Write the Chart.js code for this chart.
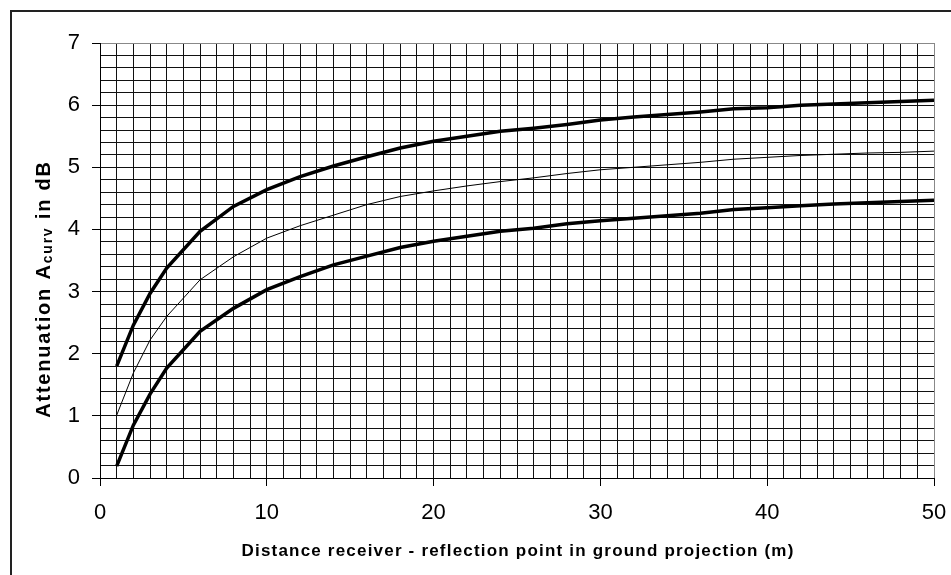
<!DOCTYPE html>
<html>
<head>
<meta charset="utf-8">
<script src="https://cdn.jsdelivr.net/npm/chart.js@4/dist/chart.umd.min.js"></script>
<style>
    body { margin: 0; background: #fff; }
    #wrap { position: relative; width: 951px; height: 575px; }
</style>
</head>
<body>
<div id="wrap"><canvas id="curvChart"></canvas></div>
<script>
// Chart data
const distances = [1, 2, 3, 4, 6, 8, 10, 12, 14, 16, 18, 20, 22, 24, 26, 28, 30, 32, 34, 36, 38, 40, 42, 44, 46, 48, 50];
const upperCurve = [1.80, 2.46, 2.97, 3.38, 3.97, 4.37, 4.64, 4.85, 5.02, 5.17, 5.31, 5.42, 5.50, 5.58, 5.63, 5.69, 5.76, 5.81, 5.85, 5.89, 5.94, 5.96, 6.00, 6.02, 6.04, 6.06, 6.08];
const middleCurve = [1.01, 1.69, 2.22, 2.60, 3.19, 3.56, 3.86, 4.06, 4.23, 4.40, 4.53, 4.62, 4.70, 4.77, 4.83, 4.90, 4.96, 5.00, 5.04, 5.08, 5.13, 5.16, 5.19, 5.21, 5.23, 5.24, 5.26];
const lowerCurve = [0.19, 0.85, 1.35, 1.77, 2.36, 2.73, 3.03, 3.24, 3.43, 3.57, 3.71, 3.81, 3.89, 3.97, 4.02, 4.09, 4.14, 4.18, 4.22, 4.26, 4.32, 4.35, 4.38, 4.41, 4.43, 4.45, 4.47];
const xTickLabels = [0, 10, 20, 30, 40, 50];
const yTickLabels = [0, 1, 2, 3, 4, 5, 6, 7];
const xTitle = 'Distance receiver - reflection point in ground projection (m)';
const yTitleParts = ['Attenuation A', 'curv', ' in dB'];

const FONT = "'Liberation Sans', Arial, sans-serif";

function toPoints(values) {
    return distances.map((d, i) => ({ x: d, y: values[i] }));
}

// draws text pieces one after another, with optional letter spacing
function drawPieces(ctx, pieces, spacing) {
    const hasLS = 'letterSpacing' in ctx;
    if (hasLS) ctx.letterSpacing = spacing + 'px';
    let total = 0;
    pieces.forEach(p => { ctx.font = p.font; total += ctx.measureText(p.text).width; });
    let x = -total / 2;
    pieces.forEach(p => {
        ctx.font = p.font;
        ctx.fillText(p.text, x, p.dy || 0);
        x += ctx.measureText(p.text).width;
    });
    if (hasLS) ctx.letterSpacing = '0px';
}

// Outer frame + axis titles
const decorations = {
    id: 'decorations',
    beforeDraw(chart) {
        const ctx = chart.ctx;
        ctx.save();
        ctx.strokeStyle = '#222';
        ctx.lineWidth = 2;
        ctx.beginPath();
        ctx.moveTo(11, chart.height);
        ctx.lineTo(11, 11);
        ctx.lineTo(chart.width, 11);
        ctx.stroke();
        ctx.restore();
    },
    afterDraw(chart) {
        const ctx = chart.ctx;
        const area = chart.chartArea;
        ctx.save();
        ctx.fillStyle = '#000';
        ctx.textBaseline = 'alphabetic';

        // x title
        ctx.save();
        ctx.translate((area.left + area.right) / 2 + 1, 556);
        drawPieces(ctx, [{ text: xTitle, font: 'bold 17px ' + FONT }], 1.2);
        ctx.restore();

        // y title, rotated, with small "curv"
        ctx.save();
        ctx.translate(50, 289);
        ctx.rotate(-Math.PI / 2);
        drawPieces(ctx, [
            { text: yTitleParts[0], font: 'bold 20px ' + FONT },
            { text: yTitleParts[1], font: 'bold 14px ' + FONT, dy: 2 },
            { text: yTitleParts[2], font: 'bold 20px ' + FONT }
        ], 1.8);
        ctx.restore();

        ctx.restore();
    }
};

const ctx = document.getElementById('curvChart').getContext('2d');

const lineStyle = (values, width) => ({
    data: toPoints(values),
    borderColor: '#000',
    borderWidth: width,
    pointRadius: 0,
    tension: 0,
    fill: false
});

new Chart(ctx, {
    type: 'line',
    data: {
        datasets: [
            lineStyle(upperCurve, 3.5),
            lineStyle(middleCurve, 1),
            lineStyle(lowerCurve, 3.5)
        ]
    },
    options: {
        responsive: true,
        maintainAspectRatio: false,
        animation: false,
        layout: { padding: { top: 43, right: 17, left: 0, bottom: 0 } },
        plugins: {
            legend: { display: false },
            tooltip: { enabled: false }
        },
        scales: {
            x: {
                type: 'linear',
                min: 0,
                max: 50,
                afterFit: s => {
                    s.height = 97;
                    s.paddingLeft = 0;
                    s.paddingRight = 0;
                },
                border: { color: '#000', width: 1 },
                grid: {
                    color: c => c.tick && c.tick.value === 50 ? '#888' : '#111',
                    lineWidth: 1,
                    tickLength: 8,
                    tickColor: c => c.tick && xTickLabels.includes(c.tick.value) ? '#000' : 'rgba(0,0,0,0)'
                },
                ticks: {
                    stepSize: 1,
                    autoSkip: false,
                    maxRotation: 0,
                    padding: 14,
                    color: '#000',
                    font: { family: FONT, size: 22 },
                    callback: v => xTickLabels.includes(v) ? String(v) : ''
                }
            },
            y: {
                type: 'linear',
                min: 0,
                max: 7,
                afterFit: s => {
                    s.width = 100;
                    s.paddingTop = 0;
                    s.paddingBottom = 0;
                },
                border: { color: '#000', width: 1 },
                grid: {
                    color: c => c.tick && Math.abs(c.tick.value - 7) < 1e-6 ? '#888' : '#111',
                    lineWidth: 1,
                    tickLength: 8,
                    tickColor: c => c.tick && Math.abs(c.tick.value - Math.round(c.tick.value)) < 1e-6 ? '#000' : 'rgba(0,0,0,0)'
                },
                ticks: {
                    stepSize: 0.2,
                    autoSkip: false,
                    padding: 12,
                    color: '#000',
                    font: { family: FONT, size: 22 },
                    callback: v => {
                        const r = Math.round(v);
                        return Math.abs(v - r) < 1e-6 && yTickLabels.includes(r) ? String(r) : '';
                    }
                }
            }
        }
    },
    plugins: [decorations]
});
</script>
</body>
</html>
